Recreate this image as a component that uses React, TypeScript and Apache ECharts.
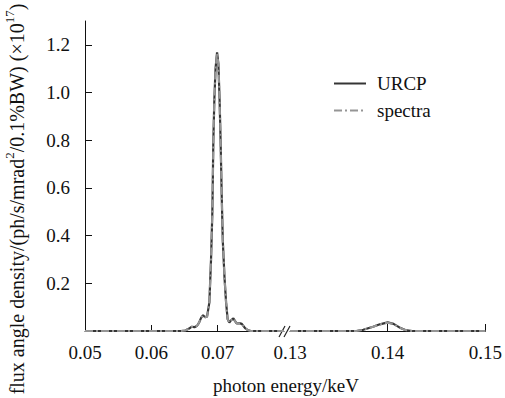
import { useEffect, useRef } from 'react';
import * as echarts from 'echarts';

// Fundamental region (left part of the broken axis), keV
const lowEnergy = [
  0.05, 0.063, 0.0645, 0.0651, 0.0657, 0.0661, 0.0665, 0.0669, 0.0672, 0.0675,
  0.0678, 0.0681, 0.0684, 0.06875, 0.069, 0.0692, 0.06935, 0.0695, 0.06968, 0.06991,
  0.07011, 0.07029, 0.07044, 0.0706, 0.07077, 0.07104, 0.07127, 0.0715, 0.07175, 0.072,
  0.07237, 0.07265, 0.07285, 0.07325, 0.07364, 0.07413, 0.0746, 0.075, 0.08,
];
const urcpLow = [
  0, 0, 0, 0.002, 0.01, 0.018, 0.016, 0.022, 0.035, 0.055,
  0.066, 0.058, 0.06, 0.12, 0.3, 0.5, 0.8, 0.97, 1.1, 1.168,
  1.12, 0.97, 0.8, 0.58, 0.38, 0.22, 0.12, 0.05, 0.035, 0.045,
  0.053, 0.04, 0.032, 0.033, 0.03, 0.012, 0.003, 0, 0,
];
const spectraLow = [
  0, 0, 0, 0.002, 0.01, 0.018, 0.016, 0.022, 0.035, 0.055,
  0.066, 0.058, 0.06, 0.12, 0.3, 0.5, 0.8, 0.97, 1.1, 1.165,
  1.12, 0.97, 0.8, 0.58, 0.38, 0.22, 0.12, 0.05, 0.035, 0.045,
  0.053, 0.04, 0.032, 0.033, 0.03, 0.012, 0.003, 0, 0,
];

// Second harmonic region (right part of the broken axis), keV
const highEnergy = [0.13, 0.1368, 0.1375, 0.1385, 0.1392, 0.14, 0.1406, 0.1412, 0.1418, 0.1425, 0.15];
const urcpHigh = [0, 0, 0.005, 0.018, 0.028, 0.036, 0.03, 0.015, 0.004, 0, 0];
const spectraHigh = [0, 0, 0.005, 0.018, 0.028, 0.035, 0.03, 0.015, 0.004, 0, 0];

const lowTicks = [0.05, 0.06, 0.07];
const highTicks = [0.13, 0.14, 0.15];
const yTicks = [0.2, 0.4, 0.6, 0.8, 1.0, 1.2];

const FONT = 'Liberation Serif';

const zip = (xs: number[], ys: number[]) => xs.map((x, i) => [x, ys[i]]);

export default function App() {
  const ref = useRef<HTMLDivElement>(null);
  useEffect(() => {
    if (!ref.current) return;
    const chart = echarts.init(ref.current, undefined, { renderer: 'svg' });
    const axisLabel = { fontFamily: FONT, fontSize: 19, color: '#111' };
    const urcpStyle = { color: '#353535', width: 2.2, type: 'solid' as const };
    const spectraStyle = { color: '#959595', width: 2, type: [8, 3, 2, 3] };
    chart.setOption({
      animation: false,
      backgroundColor: '#fff',
      grid: [
        { left: 85, top: 21, width: 199, height: 310 },
        { left: 290, top: 21, width: 198, height: 310 },
      ],
      xAxis: [
        {
          type: 'value', gridIndex: 0, min: 0.05, max: 0.08,
          splitLine: { show: false },
          axisLine: { show: true, lineStyle: { color: '#111', width: 1 } },
          axisTick: { show: true, inside: true, length: 6, customValues: [0.06, 0.07], lineStyle: { color: '#111' } },
          axisLabel: { ...axisLabel, margin: 12, customValues: lowTicks, formatter: (v: number) => v.toFixed(2) },
        },
        {
          type: 'value', gridIndex: 1, min: 0.13, max: 0.15,
          splitLine: { show: false },
          axisLine: { show: true, lineStyle: { color: '#111', width: 1 } },
          axisTick: { show: true, inside: true, length: 7, customValues: [0.14, 0.15], lineStyle: { color: '#111' } },
          axisLabel: { ...axisLabel, margin: 12, customValues: highTicks, formatter: (v: number) => v.toFixed(2) },
        },
      ],
      yAxis: [
        {
          type: 'value', gridIndex: 0, min: 0, max: 1.3,
          splitLine: { show: false },
          axisLine: { show: true, lineStyle: { color: '#111', width: 1 } },
          axisTick: { show: true, inside: true, length: 7, customValues: yTicks, lineStyle: { color: '#111' } },
          axisLabel: { ...axisLabel, margin: 15, customValues: yTicks, formatter: (v: number) => v.toFixed(1) },
        },
        { type: 'value', gridIndex: 1, min: 0, max: 1.3, show: false },
      ],
      legend: {
        orient: 'vertical', left: 333, top: 74, padding: 0,
        itemWidth: 32, itemHeight: 14, itemGap: 8,
        itemStyle: { opacity: 0 },
        data: ['URCP', 'spectra'],
        textStyle: { fontFamily: FONT, fontSize: 19, color: '#111', padding: [0, 0, 0, 6] },
      },
      series: [
        { name: 'URCP', type: 'line', xAxisIndex: 0, yAxisIndex: 0, data: zip(lowEnergy, urcpLow), symbol: 'none', lineStyle: urcpStyle, itemStyle: { color: '#353535' } },
        { name: 'URCP', type: 'line', xAxisIndex: 1, yAxisIndex: 1, data: zip(highEnergy, urcpHigh), symbol: 'none', lineStyle: urcpStyle, itemStyle: { color: '#353535' } },
        { name: 'spectra', type: 'line', xAxisIndex: 0, yAxisIndex: 0, data: zip(lowEnergy, spectraLow), symbol: 'none', lineStyle: spectraStyle, itemStyle: { color: '#959595' } },
        { name: 'spectra', type: 'line', xAxisIndex: 1, yAxisIndex: 1, data: zip(highEnergy, spectraHigh), symbol: 'none', lineStyle: spectraStyle, itemStyle: { color: '#959595' } },
      ],
      graphic: [
        { type: 'line', shape: { x1: 279, y1: 337, x2: 285, y2: 326 }, style: { stroke: '#222', lineWidth: 1.2 } },
        { type: 'line', shape: { x1: 284, y1: 337, x2: 290, y2: 326 }, style: { stroke: '#222', lineWidth: 1.2 } },
        {
          type: 'text', x: 286, y: 385,
          style: { text: 'photon energy/keV', fontFamily: FONT, fontSize: 19, fill: '#111', textAlign: 'center', textVerticalAlign: 'middle' },
        },
        {
          type: 'text', x: 15, y: 199, rotation: Math.PI / 2,
          style: {
            text: '{a|flux angle density/(ph/s/mrad}{s|2}{a|/0.1%BW) (×10}{s|17}{a|)}',
            fontFamily: FONT, fontSize: 20, fill: '#111',
            textAlign: 'center', textVerticalAlign: 'middle',
            rich: {
              a: { fontFamily: FONT, fontSize: 20, lineHeight: 24, fill: '#111', verticalAlign: 'bottom' },
              s: { fontFamily: FONT, fontSize: 13, lineHeight: 14, fill: '#111', verticalAlign: 'top' },
            },
          },
        },
      ],
    });
    return () => chart.dispose();
  }, []);
  return <div ref={ref} style={{ position: 'fixed', left: 0, top: 0, width: 505, height: 398 }} />;
}
